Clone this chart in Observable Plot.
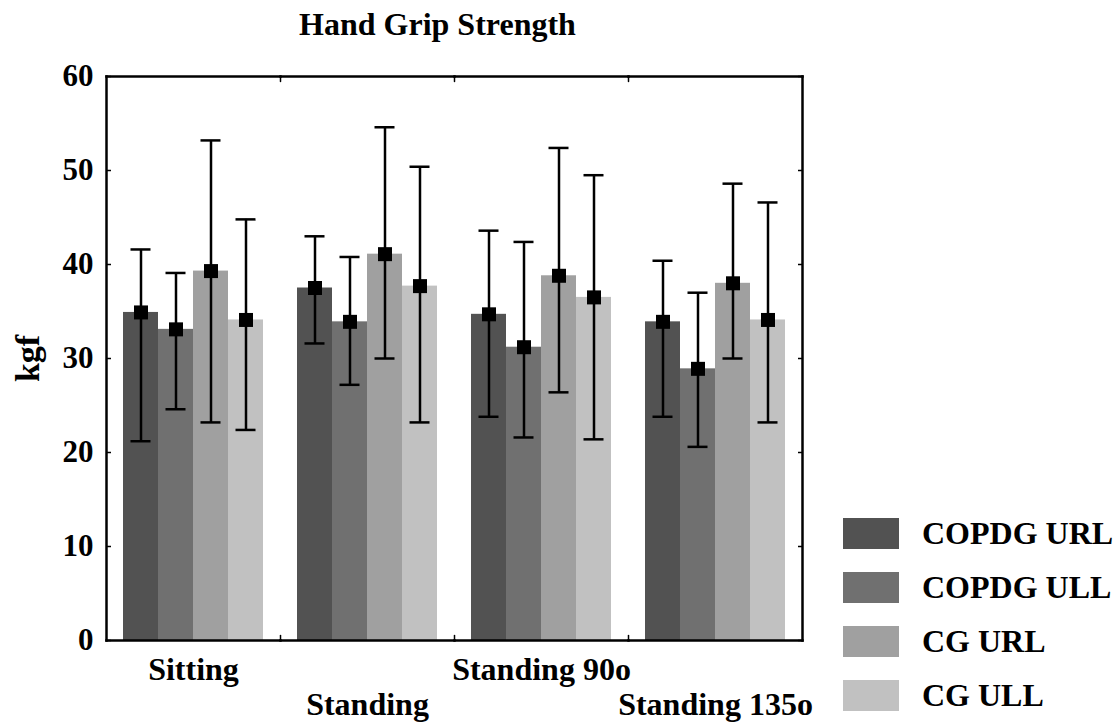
<!DOCTYPE html>
<html>
<head>
<meta charset="utf-8">
<script src="https://cdn.jsdelivr.net/npm/d3@7"></script>
<script src="https://cdn.jsdelivr.net/npm/@observablehq/plot@0.6"></script>
<style>
  body { margin: 0; background: white; }
  #wrap { position: relative; width: 1119px; height: 728px; font-family: "Liberation Serif", "Times New Roman", serif; font-weight: bold; color: black; }
  #title { position: absolute; left: 0; width: 875px; top: 8px; text-align: center; font-size: 32px; line-height: 32px; }
  #legend { position: absolute; left: 843px; top: 506px; }
  .row { display: flex; align-items: center; height: 54px; }
  .sw { width: 56px; height: 31px; margin-right: 23px; }
  .lab { font-size: 32px; line-height: 32px; white-space: nowrap; }
  #chart { position: absolute; left: 0; top: 0; }
</style>
</head>
<body>
<div id="wrap">
  <div id="chart"></div>
  <div id="title">Hand Grip Strength</div>
  <div id="legend"></div>
</div>
<script>
const conditions = ["Sitting", "Standing", "Standing 90o", "Standing 135o"];
const series = ["COPDG URL", "COPDG ULL", "CG URL", "CG ULL"];
const colors = ["#525252", "#707070", "#a0a0a0", "#c1c1c1"];
const yTicks = [0, 10, 20, 30, 40, 50, 60];

// means, upper and lower whisker ends per series (one value per condition)
const meanCopdgUrl = [34.9, 37.5, 34.7, 33.9];
const meanCopdgUll = [33.1, 33.9, 31.2, 28.9];
const meanCgUrl    = [39.3, 41.1, 38.8, 38.0];
const meanCgUll    = [34.1, 37.7, 36.5, 34.1];

const hiCopdgUrl = [41.6, 43.0, 43.6, 40.4];
const hiCopdgUll = [39.1, 40.8, 42.4, 37.0];
const hiCgUrl    = [53.2, 54.6, 52.4, 48.6];
const hiCgUll    = [44.8, 50.4, 49.5, 46.6];

const loCopdgUrl = [21.2, 31.6, 23.8, 23.8];
const loCopdgUll = [24.6, 27.2, 21.6, 20.6];
const loCgUrl    = [23.2, 30.0, 26.4, 30.0];
const loCgUll    = [22.4, 23.2, 21.4, 23.2];

const means = [meanCopdgUrl, meanCopdgUll, meanCgUrl, meanCgUll];
const highs = [hiCopdgUrl, hiCopdgUll, hiCgUrl, hiCgUll];
const lows  = [loCopdgUrl, loCopdgUll, loCgUrl, loCgUll];

const rows = [];
conditions.forEach((c, ci) => {
  series.forEach((s, si) => {
    rows.push({cond: c, series: s, mean: means[si][ci], hi: highs[si][ci], lo: lows[si][ci]});
  });
});

const tickShape = { draw(context, l) { context.moveTo(0, 0); context.lineTo(0, -l); } };

const chart = Plot.plot({
  width: 1119,
  height: 728,
  marginLeft: 105,
  marginRight: 317,
  marginTop: 76,
  marginBottom: 88,
  style: { fontFamily: "Liberation Serif, Times New Roman, serif", fontSize: "31px", fontWeight: "bold", color: "black", background: "white" },
  fx: { domain: conditions, padding: 0, axis: null },
  x: { domain: series, paddingInner: 0, paddingOuter: 0.47, axis: null },
  y: { domain: [0, 60] },
  color: { domain: series, range: colors },
  marks: [
    Plot.barY(rows, { fx: "cond", x: "series", y: "mean", fill: "series" }),
    Plot.ruleX(rows, { fx: "cond", x: "series", y1: "lo", y2: "hi", stroke: "black", strokeWidth: 2.5 }),
    Plot.tickY(rows, { fx: "cond", x: "series", y: "hi", stroke: "black", strokeWidth: 2.5, insetLeft: 7.5, insetRight: 7.5 }),
    Plot.tickY(rows, { fx: "cond", x: "series", y: "lo", stroke: "black", strokeWidth: 2.5, insetLeft: 7.5, insetRight: 7.5 }),
    Plot.dot(rows, { fx: "cond", x: "series", y: "mean", symbol: "square", r: 7.9, fill: "black", stroke: null }),
    Plot.frame({ anchor: "top", stroke: "black", strokeWidth: 2.5 }),
    Plot.frame({ anchor: "bottom", stroke: "black", strokeWidth: 2.5 }),
    Plot.frame({ anchor: "left", stroke: "black", strokeWidth: 2.5, facetAnchor: "left" }),
    Plot.frame({ anchor: "right", stroke: "black", strokeWidth: 2.5, facetAnchor: "right" }),
    Plot.vector(conditions.slice(1), { fx: d => d, frameAnchor: "top-left", length: 5, rotate: 180, anchor: "start", shape: tickShape, stroke: "black", strokeWidth: 1.5 }),
    Plot.vector(conditions.slice(1), { fx: d => d, frameAnchor: "bottom-left", length: 5, rotate: 0, anchor: "start", shape: tickShape, stroke: "black", strokeWidth: 1.5 }),
    Plot.axisY(yTicks, { anchor: "left", tickSize: -5, tickPadding: 18, strokeWidth: 1.5, fontSize: 31, label: null }),
    Plot.axisY(yTicks, { anchor: "left", tickSize: 0, tickFormat: () => "", fontSize: 34, label: "kgf", labelArrow: "none", labelAnchor: "center", labelOffset: 92 }),
    Plot.axisY(yTicks, { anchor: "right", tickSize: -5, tickFormat: () => "", strokeWidth: 1.5, label: null }),
    Plot.axisFx({ anchor: "bottom", tickSize: 0, tickPadding: 14, fontSize: 32, lineHeight: 1.1, label: null,
      tickFormat: d => (conditions.indexOf(d) % 2 ? "\n" + d : d) })
  ]
});
document.getElementById("chart").appendChild(chart);

const legend = document.getElementById("legend");
series.forEach((s, i) => {
  const row = document.createElement("div");
  row.className = "row";
  const sw = document.createElement("div");
  sw.className = "sw";
  sw.style.background = colors[i];
  const lab = document.createElement("div");
  lab.className = "lab";
  lab.textContent = s;
  row.appendChild(sw);
  row.appendChild(lab);
  legend.appendChild(row);
});
</script>
</body>
</html>
